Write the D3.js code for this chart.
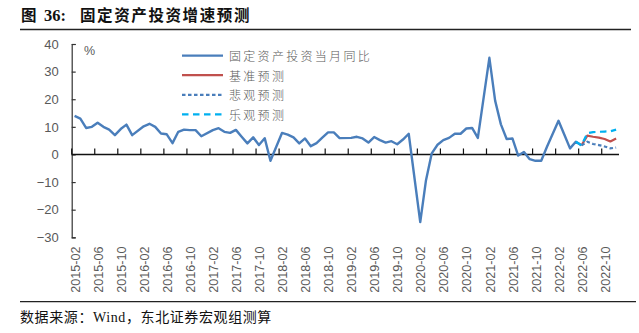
<!DOCTYPE html>
<html><head><meta charset="utf-8">
<script src="https://cdn.jsdelivr.net/npm/d3@7"></script>
<style>
html,body{margin:0;padding:0;background:#fff;}
svg{display:block;}
</style></head>
<body>
<svg id="chart" width="639" height="333"></svg>
<script>
// ---- data ----
const years = [2015, 2016, 2017, 2018, 2019, 2020, 2021, 2022];
const categories = [];
years.forEach(y => { for (let m = 1; m <= 12; m++) { if (y === 2015 && m === 1) continue; categories.push(y + "-" + String(m).padStart(2, "0")); } });
// 当月同比 (January merged into Jan-Feb, so null)
const actual = [
  14.0, 13.0, 9.6, 10.0, 11.5, 10.0, 9.0, 7.0, 9.2, 10.8, 7.0,
  null, 10.2, 11.1, 10.0, 7.6, 7.3, 4.1, 8.2, 9.0, 8.8, 8.8, 6.6,
  null, 8.8, 9.5, 8.2, 7.8, 8.9, 6.4, 4.0, 6.2, 3.4, 5.9, -2.3,
  null, 7.8, 7.2, 6.2, 4.0, 5.8, 3.0, 4.1, 6.1, 8.0, 8.0, 5.9,
  null, 6.0, 6.4, 5.8, 4.3, 6.3, 5.2, 4.3, 4.8, 3.7, 5.4, 7.5,
  null, -24.5, -9.3, 0.4, 3.5, 5.2, 6.0, 7.5, 7.5, 9.4, 9.6, 6.0,
  null, 35.0, 19.5, 10.9, 5.6, 5.8, -0.4, 0.9, -1.7, -2.3, -2.3, 2.8,
  null, 12.2, 7.2, 2.2, 4.6, 3.3
];
const baseCats = ["2022-06", "2022-07", "2022-08", "2022-09", "2022-10", "2022-11", "2022-12"];
const baseVals = [3.3, 6.8, 6.4, 6.1, 5.6, 4.7, 5.8];
const pessCats = ["2022-06", "2022-07", "2022-08", "2022-09", "2022-10", "2022-11", "2022-12"];
const pessVals = [3.3, 4.6, 3.8, 3.4, 2.9, 2.2, 2.5];
const optCats = ["2022-05", "2022-06", "2022-07", "2022-08", "2022-09", "2022-10", "2022-11", "2022-12"];
const optVals = [4.6, 3.3, 7.7, 8.1, 8.2, 8.3, 8.4, 9.0];
const yTicks = [40, 30, 20, 10, 0, -10, -20, -30];
const seriesNames = ["固定资产投资当月同比", "基准预测", "悲观预测", "乐观预测"];

// ---- drawing ----
const svg = d3.select("#chart");
const x = d3.scaleBand().domain(categories).range([71.7, 619]).padding(0);
const y = d3.scaleLinear().domain([-30, 40]).range([237.3, 44]);
const cx = c => x(c) + x.bandwidth() / 2;
const grey = "#595959";

// title
svg.append("text").attr("x", 21).attr("y", 21)
  .attr("font-family", "'Noto Sans CJK SC',sans-serif")
  .attr("font-weight", "bold").attr("font-size", 15.5).attr("fill", "#111")
  .text("图");
svg.append("text").attr("x", 44).attr("y", 21)
  .attr("font-family", "'Liberation Serif',serif")
  .attr("font-weight", "bold").attr("font-size", 16.5).attr("fill", "#111")
  .text("36:");
svg.append("text").attr("x", 80).attr("y", 21)
  .attr("font-family", "'Noto Sans CJK SC',sans-serif")
  .attr("font-weight", "bold").attr("font-size", 15.5).attr("letter-spacing", 1.6).attr("fill", "#111")
  .text("固定资产投资增速预测");
svg.append("line").attr("x1", 20).attr("x2", 631).attr("y1", 29.5).attr("y2", 29.5)
  .attr("stroke", "#222").attr("stroke-width", 1.3);

// footer
svg.append("line").attr("x1", 20).attr("x2", 636).attr("y1", 301.7).attr("y2", 301.7)
  .attr("stroke", "#222").attr("stroke-width", 1.3);
svg.append("text").attr("x", 20).attr("y", 322)
  .attr("font-family", "'Liberation Serif','Noto Sans CJK SC',serif")
  .attr("font-size", 14).attr("letter-spacing", 0.6).attr("fill", "#111")
  .text("数据来源：Wind，东北证券宏观组测算");

// y axis
const yAxis = d3.axisLeft(y).tickValues(yTicks).tickSize(-4).tickPadding(10).tickFormat(d3.format("d"));
const gy = svg.append("g").attr("transform", "translate(71.7,0)").call(yAxis);
gy.select(".domain").attr("stroke", "#333").attr("stroke-width", 1.2);
gy.selectAll(".tick line").attr("stroke", "#333").attr("stroke-width", 1.2);
gy.selectAll(".tick text").attr("fill", grey).attr("font-size", 13)
  .attr("font-family", "'Liberation Sans',Arial,sans-serif").attr("x", -13);

// % unit
svg.append("text").attr("x", 84).attr("y", 55).attr("fill", grey)
  .attr("font-size", 12.5).attr("font-family", "'Liberation Sans',Arial,sans-serif").text("%");

// x axis at zero with ticks pointing up, every 4 months at category boundaries
const tickCats = categories.filter((c, i) => i % 4 === 0);
const zeroY = y(0);
svg.append("line").attr("x1", 71.7).attr("x2", 619).attr("y1", zeroY).attr("y2", zeroY)
  .attr("stroke", "#111").attr("stroke-width", 1.5);
svg.append("g").selectAll("line").data(tickCats).join("line")
  .attr("x1", d => x(d)).attr("x2", d => x(d))
  .attr("y1", zeroY).attr("y2", zeroY - 6)
  .attr("stroke", "#111").attr("stroke-width", 1.2);
// x labels at bottom, rotated
svg.append("g").selectAll("text").data(tickCats).join("text")
  .attr("transform", d => `translate(${cx(d) + 1.8},246.5) rotate(-90)`)
  .attr("text-anchor", "end").attr("dominant-baseline", "middle")
  .attr("fill", grey).attr("font-size", 12.6)
  .attr("font-family", "'Liberation Sans',Arial,sans-serif")
  .text(d => d);

// lines
const actualData = categories.map((c, i) => ({ c, v: i < actual.length ? actual[i] : null }))
  .filter(d => d.v !== null && d.v !== undefined);
const line = d3.line().x(d => cx(d.c)).y(d => y(d.v));
svg.append("path").datum(actualData).attr("d", line)
  .attr("fill", "none").attr("stroke", "#4a7ebb").attr("stroke-width", 2.4).attr("stroke-linejoin", "round");
svg.append("path").datum(baseCats.map((c, i) => ({ c, v: baseVals[i] }))).attr("d", line)
  .attr("fill", "none").attr("stroke", "#c0504d").attr("stroke-width", 2.2).attr("stroke-linejoin", "round");
svg.append("path").datum(pessCats.map((c, i) => ({ c, v: pessVals[i] }))).attr("d", line)
  .attr("fill", "none").attr("stroke", "#4a7ebb").attr("stroke-width", 2.2).attr("stroke-dasharray", "3.5,2.5");
svg.append("path").datum(optCats.map((c, i) => ({ c, v: optVals[i] }))).attr("d", line)
  .attr("fill", "none").attr("stroke", "#00b0f0").attr("stroke-width", 2.2).attr("stroke-dasharray", "6.5,4.5");

// legend
const legY = [55.7, 75.2, 94.8, 114.3];
const legStyles = [
  { stroke: "#4a7ebb", dash: null },
  { stroke: "#c0504d", dash: null },
  { stroke: "#4a7ebb", dash: "3.5,2.5" },
  { stroke: "#00b0f0", dash: "6.5,4.5" }
];
const leg = svg.append("g");
seriesNames.forEach((name, i) => {
  leg.append("line").attr("x1", 182).attr("x2", 223).attr("y1", legY[i]).attr("y2", legY[i])
    .attr("stroke", legStyles[i].stroke).attr("stroke-width", 2.2)
    .attr("stroke-dasharray", legStyles[i].dash);
  leg.append("text").attr("x", 229).attr("y", legY[i]).attr("dominant-baseline", "central")
    .attr("fill", grey).attr("font-size", 12).attr("letter-spacing", 2.3)
    .attr("font-family", "'Noto Sans CJK SC',sans-serif").attr("font-weight", 300)
    .text(name);
});
</script>
</body></html>
